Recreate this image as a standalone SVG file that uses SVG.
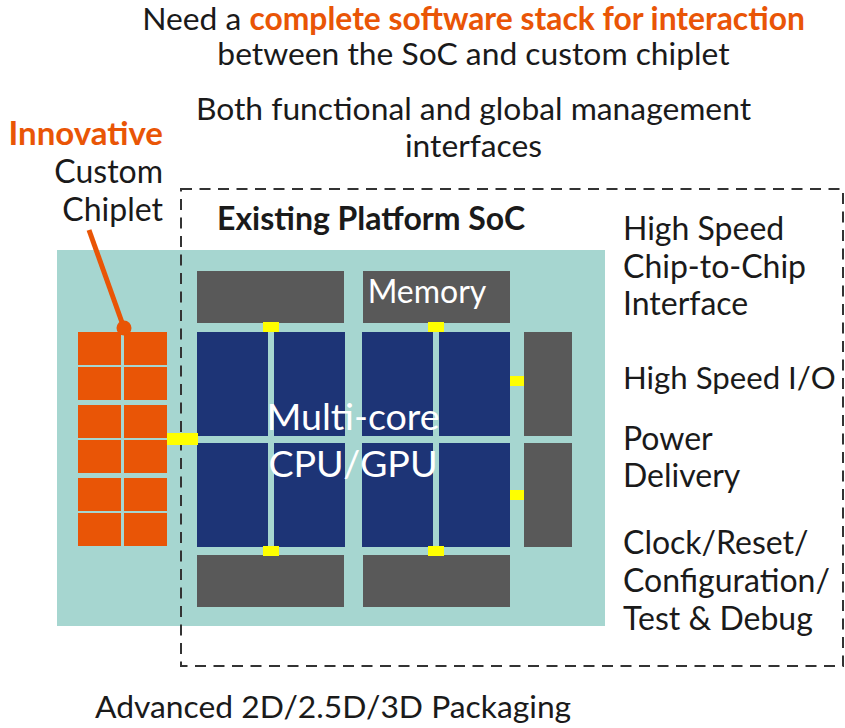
<svg xmlns="http://www.w3.org/2000/svg" width="845" height="728" viewBox="0 0 845 728">
<style>
text{font-family:Lato,"Noto Sans","Liberation Sans",sans-serif;fill:#1a1a1a}
.t{font-size:31.8px}
.r{font-size:32px}
.b{font-weight:bold}
.o{fill:#E95506}
.w{fill:#ffffff}
.chip{fill:#E95506}
.cpu{fill:#1D3476}
.gry{fill:#595959}
.yel{fill:#FFFF00}
</style>
<rect width="845" height="728" fill="#ffffff"/>
<g id="captions">
<text class="t" x="473.5" y="30" text-anchor="middle">Need a <tspan class="b o">complete software stack for interaction</tspan></text>
<text class="t" x="473.5" y="65" text-anchor="middle">between the SoC and custom chiplet</text>
<text class="t" x="473.5" y="120" text-anchor="middle">Both functional and global management</text>
<text class="t" x="473.5" y="157" text-anchor="middle">interfaces</text>
<text class="t" x="95" y="718">Advanced 2D/2.5D/3D Packaging</text>
</g>
<g id="package">
<rect x="57" y="250" width="548" height="376" fill="#A6D6D0"/>
</g>
<g id="soc">
<rect x="181" y="189" width="662" height="477" fill="none" stroke="#333333" stroke-width="2" stroke-dasharray="11 7.5"/>
<text class="r b" x="217" y="230">Existing Platform SoC</text>
</g>
<g id="memory">
<rect class="gry" x="197" y="271" width="147" height="52"/>
<rect class="gry" x="363" y="271" width="147" height="52"/>
<text class="r w" x="427" y="303" text-anchor="middle">Memory</text>
<rect class="gry" x="197" y="555" width="147" height="52"/>
<rect class="gry" x="363" y="555" width="147" height="52"/>
</g>
<g id="io">
<rect class="gry" x="524" y="332" width="48" height="104"/>
<rect class="gry" x="524" y="443" width="48" height="104"/>
</g>
<g id="cpu">
<rect class="cpu" x="197" y="332" width="71" height="104"/>
<rect class="cpu" x="274" y="332" width="71" height="104"/>
<rect class="cpu" x="362" y="332" width="71" height="104"/>
<rect class="cpu" x="439" y="332" width="71" height="104"/>
<rect class="cpu" x="197" y="443" width="71" height="104"/>
<rect class="cpu" x="274" y="443" width="71" height="104"/>
<rect class="cpu" x="362" y="443" width="71" height="104"/>
<rect class="cpu" x="439" y="443" width="71" height="104"/>
<text class="w" x="353" y="430" text-anchor="middle" font-size="37.6">Multi-core</text>
<text class="w" x="353" y="477" text-anchor="middle" font-size="37.6">CPU/GPU</text>
</g>
<g id="chiplet">
<rect class="chip" x="78" y="332" width="43" height="33"/>
<rect class="chip" x="124" y="332" width="43" height="33"/>
<rect class="chip" x="78" y="367" width="43" height="33"/>
<rect class="chip" x="124" y="367" width="43" height="33"/>
<rect class="chip" x="78" y="405" width="43" height="33"/>
<rect class="chip" x="124" y="405" width="43" height="33"/>
<rect class="chip" x="78" y="440" width="43" height="33"/>
<rect class="chip" x="124" y="440" width="43" height="33"/>
<rect class="chip" x="78" y="478" width="43" height="33"/>
<rect class="chip" x="124" y="478" width="43" height="33"/>
<rect class="chip" x="78" y="513" width="43" height="33"/>
<rect class="chip" x="124" y="513" width="43" height="33"/>
<text class="b o" x="163" y="145" text-anchor="end" font-size="33">Innovative</text>
<text class="r" x="163" y="183" text-anchor="end">Custom</text>
<text class="r" x="163" y="221" text-anchor="end">Chiplet</text>
</g>
<g id="connectors">
<line x1="89" y1="230" x2="124" y2="328" stroke="#E95506" stroke-width="5"/>
<circle cx="124" cy="328" r="7.5" fill="#E95506"/>
<rect class="yel" x="263" y="322" width="16" height="10"/>
<rect class="yel" x="428" y="322" width="16" height="10"/>
<rect class="yel" x="263" y="546" width="16" height="10"/>
<rect class="yel" x="428" y="546" width="16" height="10"/>
<rect class="yel" x="510" y="376" width="14" height="10"/>
<rect class="yel" x="510" y="490" width="14" height="10"/>
<rect class="yel" x="167" y="433" width="31" height="12"/>
</g>
<g id="labels">
<text class="r" x="623" y="240">High Speed</text>
<text class="r" x="623" y="277.5">Chip-to-Chip</text>
<text class="r" x="623" y="315">Interface</text>
<text x="623" y="389" font-size="31.2">High Speed I/O</text>
<text class="r" x="623" y="450">Power</text>
<text class="r" x="623" y="487">Delivery</text>
<text class="r" x="623" y="553.5">Clock/Reset/</text>
<text class="r" x="623" y="591.5">Configuration/</text>
<text class="r" x="623" y="629.5">Test &amp; Debug</text>
</g>
</svg>
